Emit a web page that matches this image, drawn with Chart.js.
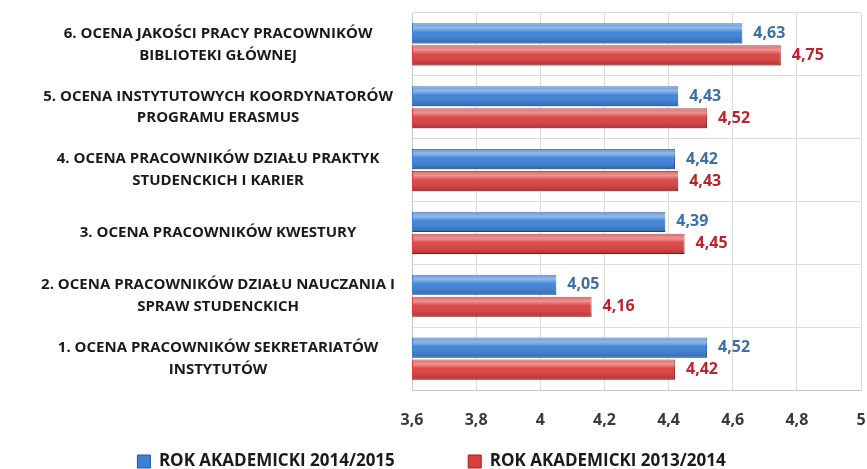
<!DOCTYPE html>
<html>
<head>
<meta charset="utf-8">
<script src="https://cdn.jsdelivr.net/npm/chart.js@4"></script>
<style>
  body { margin: 0; background: #fff; }
  #wrap { width: 867px; height: 469px; }
</style>
</head>
<body>
<div id="wrap"><canvas id="myChart"></canvas></div>
<script>
// top to bottom, as drawn
const categories = [
    ['6. OCENA JAKOŚCI PRACY PRACOWNIKÓW', 'BIBLIOTEKI GŁÓWNEJ'],
    ['5. OCENA INSTYTUTOWYCH KOORDYNATORÓW', 'PROGRAMU ERASMUS'],
    ['4. OCENA PRACOWNIKÓW DZIAŁU PRAKTYK', 'STUDENCKICH I KARIER'],
    '3. OCENA PRACOWNIKÓW KWESTURY',
    ['2. OCENA PRACOWNIKÓW DZIAŁU NAUCZANIA I', 'SPRAW STUDENCKICH'],
    ['1. OCENA PRACOWNIKÓW SEKRETARIATÓW', 'INSTYTUTÓW']
];
const rok2014_2015 = [4.63, 4.43, 4.42, 4.39, 4.05, 4.52];
const rok2013_2014 = [4.75, 4.52, 4.43, 4.45, 4.16, 4.42];
const seriesNames = ['ROK AKADEMICKI 2014/2015', 'ROK AKADEMICKI 2013/2014'];
const xTicks = [3.6, 3.8, 4, 4.2, 4.4, 4.6, 4.8, 5];

const labelColors = ['#3e6fa6', '#b8262c'];

// glossy look + value labels
const barExtras = {
    id: 'barExtras',
    afterDatasetsDraw(chart) {
        const c = chart.ctx;
        const area = chart.chartArea;
        chart.data.datasets.forEach((ds, i) => {
            chart.getDatasetMeta(i).data.forEach((bar, j) => {
                const top = bar.y - bar.height / 2;
                const left = Math.max(bar.base, area.left);
                const w = bar.x - left;
                const g = c.createLinearGradient(0, top, 0, top + bar.height);
                g.addColorStop(0, 'rgba(255,255,255,0.2)');
                g.addColorStop(0.22, 'rgba(255,255,255,0.45)');
                g.addColorStop(0.45, 'rgba(255,255,255,0.05)');
                g.addColorStop(1, 'rgba(0,0,0,0.22)');
                c.save();
                c.fillStyle = g;
                c.fillRect(left + 1, top, w - 1, bar.height);
                c.restore();

                c.save();
                c.font = 'bold 16px "Open Sans", sans-serif';
                c.fillStyle = labelColors[i];
                c.textBaseline = 'middle';
                c.fillText(ds.data[j].toFixed(2).replace('.', ','), bar.x + 11, bar.y);
                c.restore();
            });
        });
    }
};

const ctx = document.getElementById('myChart').getContext('2d');
const myChart = new Chart(ctx, {
    type: 'bar',
    data: {
        labels: categories,
        datasets: [{
            label: seriesNames[0],
            data: rok2014_2015,
            backgroundColor: '#3a80d8',
            borderColor: '#24569a',
            borderWidth: 1,
            categoryPercentage: 0.7,
            barPercentage: 0.92
        }, {
            label: seriesNames[1],
            data: rok2013_2014,
            backgroundColor: '#dc3e3e',
            borderColor: '#9a2020',
            borderWidth: 1,
            categoryPercentage: 0.7,
            barPercentage: 0.92
        }]
    },
    options: {
        indexAxis: 'y',
        responsive: true,
        maintainAspectRatio: false,
        animation: false,
        layout: { padding: { top: 13, right: 6, left: 2, bottom: -11 } },
        scales: {
            x: {
                min: 3.6,
                max: 5,
                afterBuildTicks: (axis) => { axis.ticks = xTicks.map(v => ({ value: v })); },
                afterFit: (axis) => {
                    axis.height = 62;
                    axis.paddingLeft = 0;
                    axis.paddingRight = 0;
                },
                ticks: {
                    color: '#3a3a3a',
                    font: { family: '"Open Sans", sans-serif', size: 16, weight: 'bold' },
                    padding: 21,
                    maxRotation: 0,
                    callback: (v) => String(v).replace('.', ',')
                },
                grid: { color: '#dcdcdc', drawTicks: false },
                border: { color: '#c8c8c8' }
            },
            y: {
                afterFit: (axis) => {
                    axis.width = 410;
                    axis.paddingTop = 0;
                    axis.paddingBottom = 0;
                },
                ticks: {
                    color: '#1a1a1a',
                    crossAlign: 'center',
                    font: { family: '"Open Sans", sans-serif', size: 15, weight: 'bold', lineHeight: 1.45 },
                    padding: 17
                },
                grid: { color: '#dcdcdc', drawTicks: false },
                border: { color: '#c8c8c8' }
            }
        },
        plugins: {
            legend: {
                position: 'bottom',
                labels: {
                    boxWidth: 13,
                    boxHeight: 13,
                    padding: 1,
                    color: '#1a1a1a',
                    font: { family: '"Open Sans", sans-serif', size: 17, weight: 'bold' },
                    generateLabels: (chart) => {
                        const items = Chart.defaults.plugins.legend.labels.generateLabels(chart);
                        items[0].text += '\u2003\u2003\u2003\u2003 ';
                        return items;
                    }
                }
            },
            tooltip: { enabled: false }
        }
    },
    plugins: [barExtras]
});
</script>
</body>
</html>
